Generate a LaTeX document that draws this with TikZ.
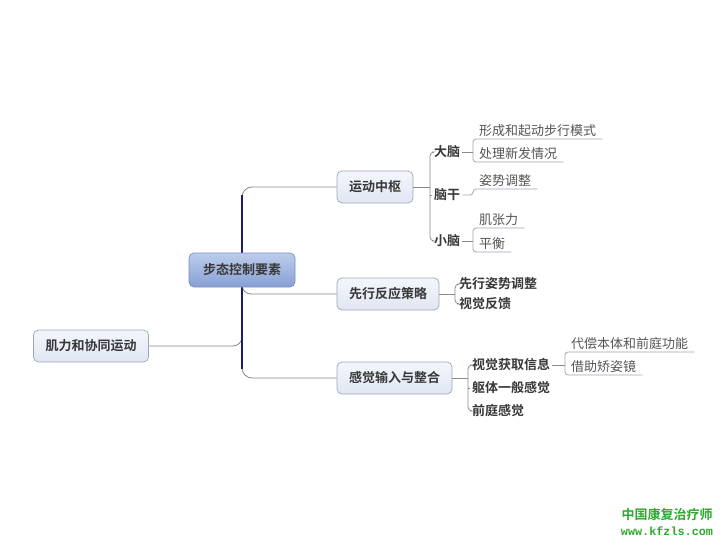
\documentclass[tikz,border=0pt]{standalone}
\usepackage{fontspec}
\newfontfamily\cjk{Noto Sans CJK SC}[BoldFont={Noto Sans CJK SC Bold}]
\newfontfamily\wmfont{Liberation Mono}[BoldFont={Liberation Mono Bold}]
\definecolor{boxtop}{HTML}{F3F6FC}
\definecolor{boxbot}{HTML}{E0E6F3}
\definecolor{boxline}{HTML}{9EA7B8}
\definecolor{ctop}{HTML}{BCCDEC}
\definecolor{cbot}{HTML}{879FD4}
\definecolor{cline}{HTML}{7C90BE}
\definecolor{conn}{HTML}{8A8A8A}
\definecolor{trunk}{HTML}{1C1C78}
\definecolor{txt}{HTML}{383838}
\definecolor{leaftxt}{HTML}{555555}
\definecolor{wmgreen}{HTML}{2FA82F}
\begin{document}
\begin{tikzpicture}[x=1pt,y=-1pt,
  box/.style={draw=boxline, line width=0.7pt, rounded corners=5pt, top color=boxtop, bottom color=boxbot,
    minimum height=32pt, inner xsep=12pt, text height=11pt, text depth=2pt,
    font=\cjk\fontsize{13}{15}\selectfont\bfseries, text=txt},
  cbox/.style={draw=cline, line width=0.7pt, rounded corners=5pt, top color=ctop, bottom color=cbot,
    minimum height=34pt, inner xsep=14pt, text height=11pt, text depth=2pt,
    font=\cjk\fontsize{13}{15}\selectfont\bfseries, text=txt},
  lab/.style={anchor=west, inner xsep=2pt, inner ysep=1pt, text height=11pt, text depth=2pt,
    font=\cjk\fontsize{13}{15}\selectfont\bfseries, text=txt},
  leaf/.style={anchor=south west, inner xsep=6pt, inner ysep=1.5pt, text height=11pt, text depth=2pt,
    font=\cjk\fontsize{13}{15}\selectfont, text=leaftxt},
  cn/.style={draw=conn, line width=0.8pt},
  ul/.style={draw=boxline, line width=0.8pt, rounded corners=3pt}
]
\fill[white] (0,0) rectangle (720,540);
\useasboundingbox (0,0) rectangle (720,540);

% main nodes
\node[box] (jl) at (91,346) {肌力和协同运动};
\node[box] (yd) at (375,187) {运动中枢};
\node[box] (xx) at (388,294) {先行反应策略};
\node[box] (gj) at (394.5,378) {感觉输入与整合};

% trunk connectors
\draw[cn, rounded corners=10pt] (242,215) -- (242,187) -- (yd.west);
\draw[cn, rounded corners=10pt] (242,350) -- (242,378) -- (gj.west);
\draw[cn, rounded corners=9pt] (242,268) -- (242,294) -- (xx.west);
\draw[cn, rounded corners=9pt] (jl.east) -- (242,346) -- (242,322);
\draw[trunk, line width=1.6pt] (242,195) -- (242,369);

\node[cbox] (bt) at (242,270) {步态控制要素};

% second level labels
\node[lab] (dn) at (432,152) {大脑};
\node[lab] (ng) at (432,195) {脑干};
\node[lab] (xn) at (432,241) {小脑};
\node[lab] (p1) at (457,284) {先行姿势调整};
\node[lab] (p2) at (457,304) {视觉反馈};
\node[lab] (s1) at (470,365) {视觉获取信息};
\node[lab] (s2) at (470,388) {躯体一般感觉};
\node[lab] (s3) at (470,411) {前庭感觉};

% brackets from boxes
\draw[cn] (yd.east) -- (430,187);
\draw[cn, rounded corners=4pt] (dn.west) -- (430,152) -- (430,241) -- (xn.west);
\draw[cn] (ng.west) -- (430,195);
\draw[cn] (xx.east) -- (455,294);
\draw[cn, rounded corners=4pt] (p1.west) -- (455,284) -- (455,304) -- (p2.west);
\draw[cn] (gj.east) -- (468,378);
\draw[cn, rounded corners=4pt] (s1.west) -- (468,365) -- (468,411) -- (s3.west);
\draw[cn] (s2.west) -- (468,388);

% leaves
\node[leaf] (l1) at (473,139) {形成和起动步行模式};
\node[leaf] (l2) at (473,162) {处理新发情况};
\node[leaf] (l3) at (473,189) {姿势调整};
\node[leaf] (l4) at (473,228) {肌张力};
\node[leaf] (l5) at (473,252) {平衡};
\node[leaf] (l6) at (565,352) {代偿本体和前庭功能};
\node[leaf] (l7) at (565,375) {借助矫姿镜};

\draw[ul] (l1.south east) -- (l1.south west) -- (l2.south west) -- (l2.south east);
\draw[cn] (dn.east) -- (473,152);
\draw[ul] (l3.south east) -- (l3.south west) -- (473,195) -- (ng.east);
\draw[ul] (l4.south east) -- (l4.south west) -- (l5.south west) -- (l5.south east);
\draw[cn] (xn.east) -- (473,241);
\draw[ul] (l6.south east) -- (l6.south west) -- (l7.south west) -- (l7.south east);
\draw[cn] (s1.east) -- (565,365);

% watermark
\node[font=\cjk\fontsize{13}{15}\selectfont\bfseries, text=wmgreen] (w1) at (667,515) {中国康复治疗师};
\node[font=\wmfont\fontsize{11.8}{14}\selectfont\bfseries, text=wmgreen] (w2) at (667,531) {www.kfzls.com};
\end{tikzpicture}
\end{document}
